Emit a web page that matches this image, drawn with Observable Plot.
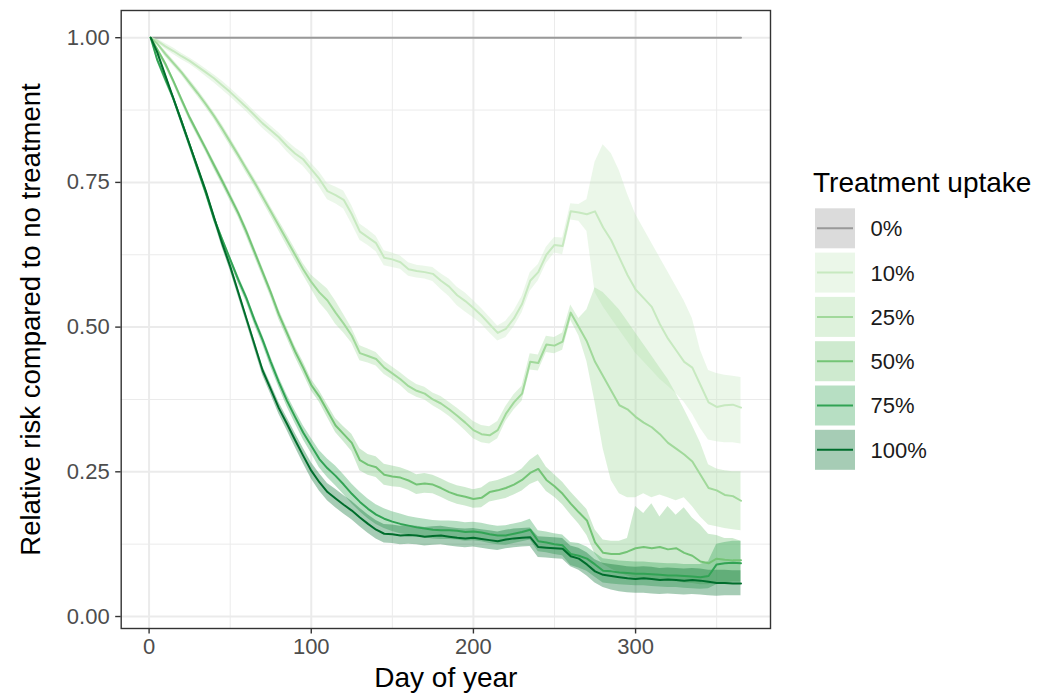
<!DOCTYPE html>
<html><head><meta charset="utf-8">
<script src="https://cdn.jsdelivr.net/npm/d3@7"></script>
<script src="https://cdn.jsdelivr.net/npm/@observablehq/plot@0.6"></script>
<style>
body{margin:0;background:#fff;}
#wrap{position:relative;width:1037px;height:695px;font-family:"Liberation Sans",Arial,sans-serif;}
#legend{position:absolute;left:0;top:0;}
</style></head>
<body><div id="wrap"></div>
<script>
// ---- data ----
const groups = ["0%","10%","25%","50%","75%","100%"];
const colors = ["#999999","#c7e9c0","#a1d99b","#74c476","#31a354","#006d2c"];
const xTicks = [0,100,200,300];
const xMinor = [50,150,250,350];
const yTicks = [0,0.25,0.5,0.75,1];
const yMinor = [0.125,0.375,0.625,0.875];

const days0 = [1,365];
const s0 = [1,1];

const days = [1,5,10,15,20,25,30,35,40,45,50,55,60,65,70,75,80,85,90,95,100,105,110,115,120,125,130,135,140,145,150,155,160,165,170,175,180,185,190,195,200,205,210,215,220,225,230,235,240,245,250,255,260,265,270,275,280,285,290,295,300,305,310,315,320,325,330,335,340,345,350,355,360,365];

const s10 = [1.0,0.995,0.985,0.977,0.968,0.96,0.95,0.94,0.93,0.918,0.906,0.893,0.88,0.866,0.852,0.84,0.828,0.813,0.80,0.79,0.773,0.756,0.735,0.728,0.72,0.695,0.665,0.655,0.645,0.62,0.617,0.612,0.60,0.597,0.595,0.592,0.58,0.57,0.555,0.545,0.533,0.52,0.505,0.49,0.497,0.515,0.54,0.58,0.595,0.625,0.642,0.64,0.70,0.698,0.695,0.70,0.672,0.65,0.62,0.59,0.565,0.55,0.535,0.505,0.48,0.46,0.44,0.43,0.40,0.37,0.362,0.365,0.366,0.361];
const hi10 = [1.0,0.998,0.99,0.982,0.973,0.965,0.956,0.946,0.936,0.925,0.913,0.9,0.887,0.873,0.86,0.848,0.836,0.822,0.81,0.8,0.783,0.768,0.748,0.742,0.735,0.71,0.678,0.668,0.657,0.632,0.628,0.623,0.611,0.607,0.605,0.603,0.592,0.583,0.569,0.559,0.546,0.532,0.517,0.502,0.51,0.528,0.553,0.594,0.608,0.638,0.655,0.654,0.713,0.712,0.72,0.785,0.815,0.80,0.77,0.73,0.695,0.67,0.645,0.62,0.595,0.57,0.545,0.515,0.46,0.425,0.42,0.417,0.415,0.413];
const lo10 = [1.0,0.992,0.98,0.971,0.962,0.954,0.944,0.933,0.922,0.91,0.898,0.885,0.872,0.858,0.843,0.831,0.819,0.803,0.789,0.778,0.761,0.742,0.72,0.713,0.704,0.678,0.65,0.641,0.63,0.606,0.603,0.6,0.588,0.585,0.583,0.579,0.565,0.553,0.537,0.526,0.516,0.505,0.49,0.476,0.482,0.5,0.525,0.562,0.58,0.61,0.628,0.625,0.685,0.683,0.665,0.56,0.535,0.515,0.495,0.475,0.455,0.44,0.425,0.41,0.398,0.385,0.37,0.35,0.325,0.305,0.302,0.30,0.30,0.298];

const s25 = [1.0,0.99,0.972,0.956,0.94,0.922,0.904,0.885,0.865,0.843,0.82,0.797,0.773,0.75,0.725,0.70,0.675,0.65,0.625,0.60,0.578,0.56,0.546,0.525,0.506,0.485,0.455,0.45,0.445,0.43,0.42,0.41,0.398,0.39,0.385,0.375,0.368,0.358,0.347,0.335,0.322,0.315,0.313,0.322,0.35,0.37,0.385,0.44,0.438,0.47,0.468,0.475,0.525,0.50,0.475,0.44,0.415,0.39,0.365,0.358,0.345,0.335,0.327,0.315,0.30,0.29,0.28,0.268,0.245,0.222,0.218,0.21,0.208,0.20];
const hi25 = [1.0,0.993,0.977,0.961,0.945,0.928,0.91,0.891,0.871,0.85,0.827,0.804,0.78,0.757,0.733,0.708,0.684,0.66,0.635,0.61,0.59,0.578,0.566,0.545,0.522,0.498,0.468,0.462,0.456,0.441,0.431,0.421,0.41,0.401,0.396,0.386,0.38,0.37,0.36,0.349,0.337,0.33,0.328,0.337,0.363,0.383,0.398,0.454,0.452,0.484,0.482,0.49,0.538,0.515,0.53,0.568,0.56,0.545,0.53,0.51,0.49,0.47,0.45,0.43,0.41,0.385,0.358,0.33,0.30,0.262,0.255,0.252,0.25,0.25];
const lo25 = [1.0,0.987,0.967,0.951,0.935,0.916,0.898,0.879,0.859,0.836,0.813,0.79,0.766,0.743,0.717,0.692,0.666,0.64,0.615,0.59,0.566,0.542,0.526,0.505,0.49,0.472,0.442,0.438,0.433,0.418,0.409,0.399,0.386,0.379,0.374,0.364,0.356,0.346,0.334,0.321,0.307,0.3,0.298,0.307,0.337,0.357,0.372,0.426,0.424,0.456,0.454,0.46,0.512,0.485,0.44,0.37,0.29,0.235,0.212,0.205,0.205,0.212,0.205,0.21,0.205,0.2,0.205,0.19,0.172,0.158,0.155,0.152,0.15,0.148];

const s50 = [1.0,0.98,0.955,0.925,0.893,0.862,0.835,0.808,0.78,0.753,0.725,0.697,0.665,0.63,0.595,0.56,0.522,0.49,0.458,0.43,0.40,0.38,0.355,0.33,0.315,0.30,0.27,0.262,0.258,0.245,0.242,0.24,0.235,0.228,0.23,0.228,0.222,0.215,0.21,0.207,0.203,0.205,0.215,0.218,0.222,0.228,0.236,0.248,0.255,0.236,0.225,0.212,0.195,0.18,0.166,0.128,0.11,0.108,0.108,0.112,0.118,0.12,0.118,0.12,0.116,0.118,0.11,0.105,0.095,0.092,0.10,0.098,0.097,0.097];
const hi50 = [1.0,0.984,0.96,0.93,0.899,0.868,0.841,0.814,0.787,0.76,0.732,0.704,0.673,0.638,0.603,0.568,0.531,0.499,0.467,0.44,0.41,0.39,0.366,0.342,0.328,0.315,0.29,0.28,0.276,0.263,0.26,0.257,0.252,0.245,0.247,0.244,0.238,0.231,0.226,0.223,0.219,0.222,0.232,0.235,0.24,0.246,0.255,0.27,0.28,0.258,0.245,0.232,0.215,0.20,0.185,0.15,0.132,0.13,0.13,0.135,0.19,0.178,0.195,0.172,0.19,0.175,0.188,0.17,0.158,0.142,0.14,0.135,0.135,0.13];
const lo50 = [1.0,0.976,0.95,0.92,0.887,0.856,0.829,0.802,0.773,0.746,0.718,0.69,0.657,0.622,0.587,0.552,0.513,0.481,0.449,0.42,0.39,0.37,0.344,0.318,0.302,0.285,0.252,0.244,0.24,0.227,0.224,0.223,0.218,0.211,0.213,0.212,0.206,0.199,0.194,0.191,0.187,0.188,0.198,0.201,0.204,0.21,0.217,0.228,0.234,0.216,0.206,0.193,0.176,0.16,0.14,0.108,0.09,0.082,0.075,0.07,0.066,0.064,0.063,0.062,0.061,0.06,0.058,0.057,0.055,0.055,0.058,0.058,0.06,0.06];

const s75 = [1.0,0.962,0.928,0.895,0.856,0.815,0.773,0.732,0.688,0.652,0.617,0.582,0.55,0.512,0.478,0.44,0.405,0.373,0.345,0.318,0.295,0.272,0.256,0.243,0.228,0.212,0.198,0.186,0.176,0.169,0.164,0.16,0.157,0.154,0.152,0.15,0.149,0.149,0.148,0.146,0.147,0.145,0.142,0.14,0.14,0.143,0.146,0.15,0.13,0.128,0.125,0.123,0.108,0.105,0.10,0.09,0.079,0.078,0.076,0.075,0.074,0.074,0.073,0.072,0.071,0.071,0.07,0.069,0.068,0.07,0.09,0.092,0.093,0.092];
const hi75 = [1.0,0.966,0.933,0.90,0.862,0.821,0.779,0.738,0.694,0.658,0.623,0.589,0.557,0.52,0.486,0.449,0.414,0.383,0.356,0.33,0.308,0.287,0.272,0.26,0.245,0.229,0.215,0.203,0.193,0.186,0.181,0.177,0.173,0.17,0.168,0.166,0.165,0.165,0.164,0.162,0.163,0.161,0.158,0.156,0.157,0.16,0.163,0.168,0.148,0.146,0.143,0.141,0.128,0.126,0.12,0.11,0.10,0.098,0.096,0.095,0.094,0.094,0.093,0.092,0.091,0.091,0.09,0.09,0.09,0.095,0.125,0.128,0.13,0.13];
const lo75 = [1.0,0.958,0.923,0.89,0.85,0.809,0.767,0.726,0.682,0.646,0.611,0.575,0.543,0.504,0.47,0.431,0.396,0.363,0.334,0.306,0.282,0.257,0.24,0.226,0.211,0.195,0.181,0.169,0.159,0.152,0.147,0.143,0.141,0.138,0.136,0.134,0.133,0.133,0.132,0.13,0.131,0.129,0.126,0.124,0.123,0.126,0.129,0.132,0.112,0.11,0.107,0.105,0.088,0.084,0.078,0.068,0.058,0.056,0.055,0.054,0.053,0.053,0.052,0.051,0.05,0.05,0.049,0.048,0.047,0.048,0.055,0.057,0.058,0.058];

const s100 = [1.0,0.975,0.935,0.895,0.855,0.815,0.775,0.735,0.69,0.645,0.605,0.56,0.515,0.47,0.425,0.393,0.36,0.333,0.305,0.278,0.252,0.232,0.215,0.204,0.193,0.183,0.171,0.16,0.15,0.143,0.142,0.14,0.141,0.14,0.138,0.139,0.14,0.138,0.136,0.135,0.136,0.134,0.132,0.13,0.133,0.135,0.136,0.137,0.12,0.119,0.118,0.117,0.104,0.10,0.09,0.078,0.072,0.07,0.068,0.066,0.065,0.066,0.065,0.063,0.064,0.063,0.062,0.063,0.062,0.06,0.058,0.058,0.057,0.057];
const hi100 = [1.0,0.979,0.94,0.90,0.861,0.821,0.781,0.741,0.697,0.652,0.612,0.567,0.522,0.478,0.433,0.402,0.37,0.344,0.317,0.291,0.266,0.247,0.23,0.22,0.209,0.199,0.187,0.176,0.166,0.159,0.158,0.156,0.157,0.156,0.154,0.155,0.156,0.154,0.152,0.151,0.152,0.15,0.148,0.146,0.149,0.151,0.152,0.153,0.138,0.137,0.136,0.135,0.122,0.118,0.11,0.098,0.092,0.09,0.088,0.086,0.085,0.086,0.085,0.083,0.084,0.083,0.082,0.083,0.082,0.08,0.08,0.08,0.079,0.079];
const lo100 = [1.0,0.971,0.93,0.89,0.849,0.809,0.769,0.729,0.683,0.638,0.598,0.553,0.508,0.462,0.417,0.384,0.35,0.322,0.293,0.265,0.238,0.217,0.20,0.188,0.177,0.167,0.155,0.144,0.134,0.127,0.126,0.124,0.125,0.124,0.122,0.123,0.124,0.122,0.12,0.119,0.12,0.118,0.116,0.114,0.117,0.119,0.12,0.121,0.102,0.101,0.10,0.099,0.086,0.08,0.07,0.058,0.05,0.046,0.043,0.041,0.04,0.04,0.039,0.038,0.039,0.038,0.037,0.038,0.037,0.036,0.035,0.036,0.036,0.036];

// ---- build table ----
const series = [
  {g:"10%", mid:s10, lo:lo10, hi:hi10},
  {g:"25%", mid:s25, lo:lo25, hi:hi25},
  {g:"50%", mid:s50, lo:lo50, hi:hi50},
  {g:"75%", mid:s75, lo:lo75, hi:hi75},
  {g:"100%", mid:s100, lo:lo100, hi:hi100}
];
const rows = [];
days0.forEach((d,i) => rows.push({group:"0%", day:d, mid:s0[i], lo:s0[i], hi:s0[i]}));
series.forEach(s => days.forEach((d,i) => rows.push({group:s.g, day:d, mid:s.mid[i], lo:s.lo[i], hi:s.hi[i]})));

const FONT = "Liberation Sans, Arial, Helvetica, sans-serif";
const grid = "#ebebeb";

const chart = Plot.plot({
  width: 1037, height: 695,
  marginLeft: 120.7, marginRight: 267, marginTop: 10, marginBottom: 67,
  style: {fontFamily: FONT, background: "white", overflow: "visible"},
  x: {domain: [-17.2, 383.2]},
  y: {domain: [-0.0207, 1.047]},
  color: {type: "ordinal", domain: groups, range: colors},
  marks: [
    Plot.gridX(xMinor, {stroke: grid, strokeOpacity: 1, strokeWidth: 1}),
    Plot.gridY(yMinor, {stroke: grid, strokeOpacity: 1, strokeWidth: 1}),
    Plot.gridX(xTicks, {stroke: grid, strokeOpacity: 1, strokeWidth: 2}),
    Plot.gridY(yTicks, {stroke: grid, strokeOpacity: 1, strokeWidth: 2}),
    Plot.areaY(rows, {x: "day", y1: "lo", y2: "hi", z: "group", fill: "group", fillOpacity: 0.35}),
    Plot.line(rows, {x: "day", y: "mid", z: "group", stroke: "group", strokeWidth: 2}),
    Plot.frame({stroke: "#333333", strokeWidth: 1.4}),
    Plot.axisX(xTicks, {tickSize: 5.5, tickPadding: 4, fontSize: 22, fill: "#4d4d4d", stroke: "#333333", strokeWidth: 1.4, label: null, tickFormat: d => String(d)}),
    Plot.axisY(yTicks, {tickSize: 5.5, tickPadding: 6, fontSize: 22, fill: "#4d4d4d", stroke: "#333333", strokeWidth: 1.4, label: null, tickFormat: d3.format(".2f")}),
    Plot.text(["Day of year"], {frameAnchor: "bottom", text: d => d, dy: 58, fontSize: 28, fill: "#000"}),
    Plot.text(["Relative risk compared to no treatment"], {frameAnchor: "left", textAnchor: "middle", text: d => d, dx: -90, rotate: -90, fontSize: 27.5, fill: "#000"})
  ]
});
document.getElementById("wrap").appendChild(chart);

// ---- legend ----
const leg = d3.select("#wrap").append("svg").attr("id", "legend")
  .attr("width", 1037).attr("height", 695).style("pointer-events", "none");
leg.append("text").attr("x", 813).attr("y", 192).attr("font-family", FONT)
  .attr("font-size", 28).attr("fill", "#000").text("Treatment uptake");
groups.forEach((g, i) => {
  const top = 208.3 + i * 44.3;
  leg.append("rect").attr("x", 815).attr("y", top).attr("width", 40).attr("height", 40)
    .attr("fill", colors[i]).attr("fill-opacity", 0.35);
  leg.append("line").attr("x1", 817).attr("x2", 853).attr("y1", top + 20).attr("y2", top + 20)
    .attr("stroke", colors[i]).attr("stroke-width", 2);
  leg.append("text").attr("x", 870.5).attr("y", top + 20).attr("dy", "0.36em")
    .attr("font-family", FONT).attr("font-size", 22).attr("fill", "#1a1a1a").text(g);
});
</script>
</body></html>
